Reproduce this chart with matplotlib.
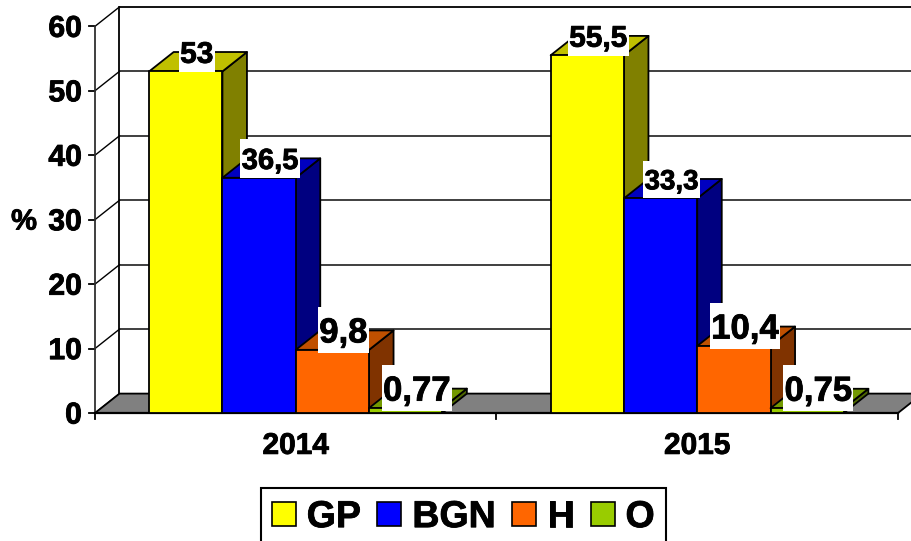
import matplotlib
matplotlib.use("Agg")
import matplotlib.pyplot as plt
import matplotlib.patheffects as pe
from matplotlib.patches import Polygon, Rectangle

plt.rcParams['font.family'] = ['Liberation Sans', 'DejaVu Sans']
plt.rcParams['font.weight'] = 'bold'

categories = ['2014', '2015']
series_names = ['GP', 'BGN', 'H', 'O']
gp = [53, 55.5]
bgn = [36.5, 33.3]
h = [9.8, 10.4]
o = [0.77, 0.75]
series_values = [gp, bgn, h, o]
value_labels = [['53', '55,5'], ['36,5', '33,3'], ['9,8', '10,4'], ['0,77', '0,75']]
label_sizes = [[21.5, 21.5], [21, 20], [25, 25], [25, 25]]
y_ticks = [0, 10, 20, 30, 40, 50, 60]

front = ['#FFFF00', '#0000FF', '#FF6600', '#99CC00']
top = ['#C0C000', '#0000C0', '#C05000', '#739900']
side = ['#808000', '#000080', '#803300', '#4D6600']

W, H = 912, 541
PX0, PY0 = 95.0, 413.0      # pixel position of the data origin
SX, SY = 401.5, 6.445       # pixels per category / per percent
DX, DY = 24.5 / SX, 19.4 / SY   # 3-D depth in data units
BW = 73.3 / SX
GAP = (1 - 4 * BW) / 2

fig = plt.figure(figsize=(W / 100, H / 100), dpi=100, facecolor='white')
ax = fig.add_axes([0, 0, 1, 1])
ax.set_xlim(-PX0 / SX, (W - PX0) / SX)
ax.set_ylim((PY0 - H) / SY, PY0 / SY)
ax.axis('off')

EDGE = dict(edgecolor='black', linewidth=1.3, joinstyle='round')
HEAVY = [pe.withStroke(linewidth=0.6, foreground='black')]
ymax = y_ticks[-1]

# floor
ax.add_patch(Polygon([(0, 0), (DX, DY), (2 + DX, DY), (2, 0)], facecolor='#808080', zorder=1, **EDGE))
# back wall grid and side wall
for v in y_ticks:
    c = 'black' if v == ymax else '#303030'
    ax.plot([DX, 2 + DX], [v + DY, v + DY], color=c, lw=1.3, zorder=0.5, solid_capstyle='butt')
    ax.plot([0, DX], [v, v + DY], color='black', lw=1.0, zorder=0.6)
    ax.plot([-6 / SX, 0], [v, v], color='black', lw=1.3, zorder=0.6)
    ax.text(-13 / SX, v - 0.4, str(v), ha='right', va='center', fontsize=21.7, color='black', path_effects=HEAVY)
ax.plot([0, 0], [0, ymax], color='#303030', lw=1.3, zorder=0.6)
ax.plot([DX, DX], [0 + DY, ymax + DY], color='black', lw=1.3, zorder=0.6)
ax.plot([0, 2], [0, 0], color='black', lw=1.6, zorder=1.5)
for x in [0, 1, 2]:
    ax.plot([x, x], [0, -6 / SY], color='black', lw=1.3, zorder=1.5)

# 3-D bars
z = 2
for c in range(len(categories)):
    for s in range(len(series_names)):
        v = series_values[s][c]
        x0 = c + GAP + s * BW
        x1 = x0 + BW
        ax.add_patch(Polygon([(x1, 0), (x1 + DX, DY), (x1 + DX, v + DY), (x1, v)], facecolor=side[s], zorder=z, **EDGE))
        ax.add_patch(Polygon([(x0, v), (x0 + DX, v + DY), (x1 + DX, v + DY), (x1, v)], facecolor=top[s], zorder=z, **EDGE))
        ax.add_patch(Polygon([(x0, 0), (x1, 0), (x1, v), (x0, v)], facecolor=front[s], zorder=z + 0.1, **EDGE))
        z += 1

# value labels on white boxes (box is taller than the text, as in the source)
fig.canvas.draw()
renderer = fig.canvas.get_renderer()
for c in range(len(categories)):
    for s in range(len(series_names)):
        v = series_values[s][c]
        fs = label_sizes[s][c]
        xc = c + GAP + (s + 0.5) * BW + DX * 0.45
        box_bottom = v - 0.75 * (fs - 21) / SY
        base = box_bottom + 0.3 * (fs / 0.72) / SY
        t = ax.text(xc, base, value_labels[s][c], ha='center', va='baseline', zorder=100,
                    fontsize=fs, color='black', path_effects=HEAVY)
        tw = t.get_window_extent(renderer).width
        bw = (tw + 3) / SX
        bh = 1.83 * fs / SY
        ax.add_patch(Rectangle((xc - bw / 2, box_bottom), bw, bh, facecolor='white', edgecolor='none', zorder=99))

# category labels and axis title
for c, name in enumerate(categories):
    ax.text(c + 0.5, -5.1, name, ha='center', va='center', fontsize=21.5, color='black', path_effects=HEAVY)
ax.text(-71 / SX, 29.7, '%', ha='center', va='center', fontsize=21, color='black', path_effects=HEAVY)

# legend (its lower edge runs off the bottom of the picture, as in the source)
handles = [Rectangle((0, 0), 1, 1, facecolor=front[i], edgecolor='black', linewidth=1.2) for i in range(4)]
leg = ax.legend(handles, series_names, ncols=4, loc='lower left', bbox_to_anchor=(261 / W, -5.0 / H),
                fontsize=27, frameon=True, fancybox=False, edgecolor='black', framealpha=1,
                handlelength=0.64, handleheight=0.64, handletextpad=0.29, columnspacing=0.44,
                borderpad=0.29, borderaxespad=0.0)
leg.get_frame().set_linewidth(1.5)
leg.set_zorder(200)
for t in leg.get_texts():
    t.set_path_effects(HEAVY)

fig.savefig('out.png', dpi=100, facecolor='white')
